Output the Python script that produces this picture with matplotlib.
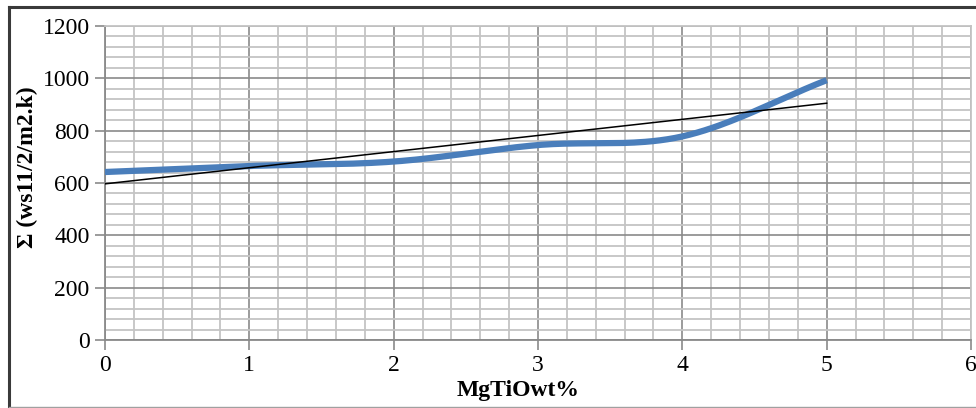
#!/usr/bin/env python3
"""Sigma vs MgTiO wt% with linear trendline."""

import matplotlib
matplotlib.use("Agg")
import matplotlib.pyplot as plt
from matplotlib.lines import Line2D
from matplotlib.ticker import MultipleLocator
import numpy as np

plt.rcParams.update({
    "font.family": ["Liberation Serif", "DejaVu Serif"],
    "font.size": 17,
})

mgtio_wt = [0, 1, 2, 3, 4, 5]
sigma = [642, 665, 682, 745, 778, 993]

x_ticks = [0, 1, 2, 3, 4, 5, 6]
y_ticks = [0, 200, 400, 600, 800, 1000, 1200]


def smooth(x, y, n=40):
    # Catmull-Rom style smoothing like a spreadsheet "smoothed line"
    x = np.asarray(x, float)
    y = np.asarray(y, float)
    px = np.concatenate([[2 * x[0] - x[1]], x, [2 * x[-1] - x[-2]]])
    py = np.concatenate([[2 * y[0] - y[1]], y, [2 * y[-1] - y[-2]]])
    xs, ys = [], []
    t = np.linspace(0, 1, n)
    for i in range(1, len(px) - 2):
        for arr, out in ((px, xs), (py, ys)):
            p0, p1, p2, p3 = arr[i - 1], arr[i], arr[i + 1], arr[i + 2]
            seg = 0.5 * ((2 * p1) + (-p0 + p2) * t
                         + (2 * p0 - 5 * p1 + 4 * p2 - p3) * t ** 2
                         + (-p0 + 3 * p1 - 3 * p2 + p3) * t ** 3)
            out.extend(seg)
    return np.array(xs), np.array(ys)


fig = plt.figure(figsize=(9.76, 4.08), dpi=100)
ax = fig.add_axes([105 / 976, 68 / 408, 866 / 976, 314 / 408])

ax.set_xlim(0, 6)
ax.set_ylim(0, 1200)
ax.xaxis.set_major_locator(MultipleLocator(1))
ax.xaxis.set_minor_locator(MultipleLocator(0.2))
ax.yaxis.set_major_locator(MultipleLocator(200))
ax.yaxis.set_minor_locator(MultipleLocator(40))
ax.set_xticks(x_ticks)
ax.set_yticks(y_ticks)
ax.grid(which="minor", color="#c4c4c4", linewidth=1.3)
ax.grid(which="major", color="#8a8a8a", linewidth=1.2)
ax.set_axisbelow(True)

ax.tick_params(which="major", direction="out", length=7, width=1.2,
               color="#8a8a8a", labelsize=17, pad=4)
ax.tick_params(which="minor", length=0)
for side in ("left", "bottom"):
    ax.spines[side].set_color("#8a8a8a")
    ax.spines[side].set_linewidth(1.3)
for side in ("top", "right"):
    ax.spines[side].set_color("#c4c4c4")
    ax.spines[side].set_linewidth(1.3)

sx, sy = smooth(mgtio_wt, sigma)
ax.plot(sx, sy, color="#4a7ebb", linewidth=4.5, solid_capstyle="butt", zorder=3)

slope, intercept = np.polyfit(mgtio_wt, sigma, 1)
tx = np.array([mgtio_wt[0], mgtio_wt[-1]])
ax.plot(tx, slope * tx + intercept, color="black", linewidth=1.1, zorder=4)

ax.set_xlabel("MgTiOwt%", fontsize=17, fontweight="bold")
ax.xaxis.set_label_coords(0.477, -0.128)
ax.set_ylabel("Σ (ws11/2/m2.k)", fontsize=17, fontweight="bold")
ax.yaxis.set_label_coords(-0.077, 0.55)

# outer chart frame
fig.add_artist(Line2D([9 / 976, 9 / 976], [0.5 / 408, 401 / 408],
                      color="#3a3a3a", linewidth=2.2))
fig.add_artist(Line2D([9 / 976, 1.0], [401 / 408, 401 / 408],
                      color="#3a3a3a", linewidth=2.2))
fig.add_artist(Line2D([9 / 976, 1.0], [1 / 408, 1 / 408],
                      color="#a0a0a0", linewidth=1.0))

fig.savefig("out.png", dpi=100)
